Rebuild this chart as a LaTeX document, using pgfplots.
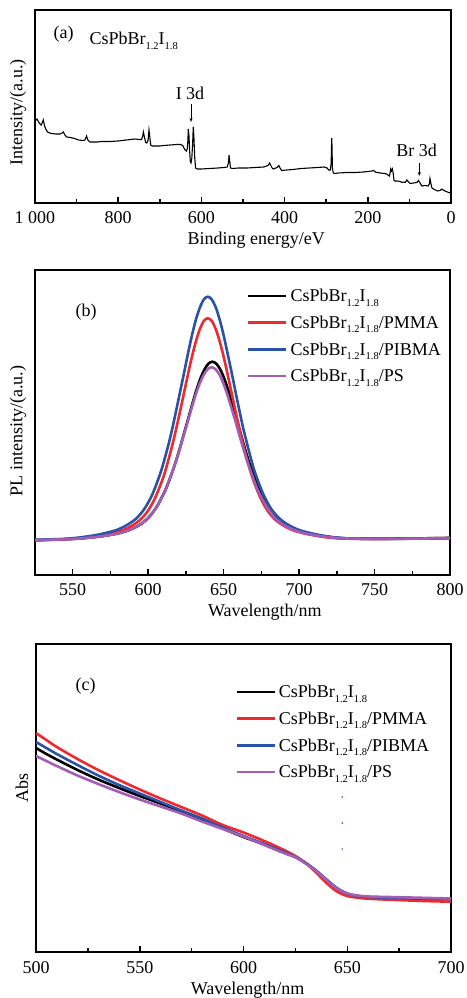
\documentclass[border=0pt]{standalone}
\usepackage{fontspec}
\setmainfont{Liberation Serif}
\usepackage{pgfplots}
\pgfplotsset{compat=1.18}
\usetikzlibrary{arrows.meta}

\definecolor{cred}{HTML}{EE2A2E}
\definecolor{cblue}{HTML}{2A52A8}
\definecolor{cpurple}{HTML}{A35DB5}

\newcommand{\ff}{\fontsize{18bp}{20bp}\selectfont}
\newcommand{\sub}[1]{\raisebox{-4.5bp}{\fontsize{10.5bp}{10.5bp}\selectfont #1}}
\newcommand{\cmp}{CsPbBr\sub{1.2}I\sub{1.8}}

\pgfplotsset{
  panel/.style={
    scale only axis, anchor=south west,
    ytick=\empty, xtick pos=bottom, tick align=inside,
    minor x tick num=1,
    major tick length=6bp, minor tick length=4bp,
    tick style={line width=1.5bp, black},
    axis line style={line width=2bp},
    /pgf/number format/assume math mode=true,
    tick label style={font=\ff},
    xticklabel style={anchor=base, yshift=-21bp},
    label style={font=\ff},
    xlabel style={anchor=base, yshift=-42bp},
    ylabel style={anchor=center},
  },
  leg/.style={
    legend style={draw=none, fill=none, inner sep=0pt, outer sep=0pt,
      anchor=north west, row sep=9.2bp, column sep=3bp, font=\ff,
      nodes={inner sep=0pt, text height=12.5bp, text depth=5bp}},
    legend cell align=left,
    legend image code/.code={\draw[##1, line width=2.6bp] (0bp,2bp) -- (38bp,2bp);},
  },
}

\begin{document}
\begin{tikzpicture}
\path[use as bounding box] (0,0) rectangle (467bp,998bp);

% (a) XPS survey
\begin{axis}[panel,
  at={(35bp,795bp)}, width=416bp, height=193bp,
  xmin=0, xmax=1000, x dir=reverse, ymin=0, ymax=193,
  xtick={0,200,400,600,800,1000},
  xticklabels={0,200,400,600,800,1~000},
  xlabel={Binding energy/eV},
  xlabel style={at={(axis description cs:0.532,0)}},
  ylabel={Intensity/(a.u.)},
  ylabel style={at={(axis description cs:0,0.469)}, yshift=17bp},
]
\addplot[black, line width=1.1bp] coordinates {
(1000,82) (995,84) (990,80) (985,78) (980,83) (977,77) (974,74) (970,71)
(965,70) (960,69.5) (950,69) (940,69) (935,70) (932,71) (928,68) (924,66)
(915,65.5) (905,64.5) (895,63) (885,62.5) (880,63) (876,67) (873,63) (868,61)
(860,61) (850,61) (840,61.5) (820,61.5) (800,62) (780,63) (760,64) (750,63.5)
(744,63.5) (741,67) (739.5,71) (737,66) (734,60.5) (731,60) (728,63) (726,73)
(724,66) (722,58) (718,57) (710,57) (700,57) (690,57.5) (675,58) (660,58.5)
(650,58.5) (645,57.5) (642,55) (639,53) (636,52) (634,54) (632.5,62) (631.5,74)
(630,68) (628,50) (626.5,41) (625,40) (623,45) (621,60) (619.5,76) (618,66)
(616,45) (614,35) (610,34) (600,34) (580,34.5) (560,35) (545,35.5) (538,36)
(535,40) (533.5,48) (532,42) (530,35) (525,34.5) (510,35) (490,35) (470,35.5)
(450,36) (443,37) (440,37.5) (436,40) (433,37.5) (430,35) (427,34) (418,35.5)
(414,37.5) (411,35) (407,32.5) (395,33) (380,33.5) (360,34.5) (340,35) (320,35.5)
(305,36) (298,35) (294,33) (290,33) (288,40) (287,60) (286.5,65) (286,55)
(285,35) (283,30) (280,29.5) (270,30) (250,30.5) (230,30.5) (210,31) (190,32)
(186,32.5) (182,31) (178,30.5) (170,30) (160,29.5) (155,29) (150,27.5) (148,27)
(146,31) (145,34) (143,32) (141,34) (139,30) (137,22.5) (135,22) (130,22)
(122,21.5) (118,20.5) (115,21) (110,20.5) (106,23) (102,21) (98,19.5) (90,20)
(82,20.5) (78,22.5) (76,21) (73,19) (70,17) (62,17.5) (55,17) (52,19)
(50.5,24.5) (48.5,20) (46,15) (40,13.5) (32,12) (26,12.5) (22,14) (19,13)
(12,11.5) (5,10.5) (0,10)
};
\end{axis}
\node[font=\ff, anchor=base west] at (50bp,959bp) {(a)};
\node[font=\ff, anchor=base west] at (86bp,953bp) {\cmp};
\node[font=\ff, anchor=base] at (190bp,898bp) {I 3d};
\draw[line width=0.6bp, -{Stealth[length=4bp,width=3bp]}] (191bp,894bp) -- (191bp,876bp);
\node[font=\ff, anchor=base] at (416.5bp,841bp) {Br 3d};
\draw[line width=0.6bp, -{Stealth[length=4bp,width=3bp]}] (419.3bp,835bp) -- (419.3bp,822bp);

% (b) PL
\begin{axis}[panel, leg,
  at={(35bp,423bp)}, width=415bp, height=305bp,
  xmin=525, xmax=800, ymin=0, ymax=305,
  xtick={550,600,...,800},
  xlabel={Wavelength/nm},
  xlabel style={at={(axis description cs:0.554,0)}},
  ylabel={PL intensity/(a.u.)},
  ylabel style={at={(axis description cs:0,0.472)}, yshift=17bp},
  legend style={at={(axis description cs:0.5108,0.937)}},
]
\addplot[black, line width=2.6bp, smooth] coordinates {
(525,34.8)(537.5,35.4)(548,35.9)(558.5,37)(569,38.7)(579.5,41.4)(584.8,43.6)
(590,46.6)(595.3,51)(600.5,57.8)(605.8,68.5)(611,83.7)(613.6,93.3)(616.3,104.4)
(618.9,116.3)(621.5,129.5)(624.1,143.4)(626.8,157.7)(629.4,171.8)(632,185)
(634.6,196.4)(637.3,205.5)(639.9,211.3)(642.5,213.3)(645.1,211.3)(647.8,205.5)
(650.4,196.4)(653,185)(655.6,171.8)(658.3,157.7)(660.9,143.4)(663.5,129.5)
(666.1,116.3)(668.8,104.4)(671.4,93.3)(674,83.7)(679.3,68.5)(684.5,57.8)
(689.8,51)(695,46.6)(700.3,43.6)(705.5,41.4)(716,38.7)(726.5,37)(737,36.4)
(750,36.1)(765,36.2)(780,36.5)(800,36.9)
};
\addlegendentry{\cmp}
\addplot[cred, line width=2.6bp, smooth] coordinates {
(525,34.6)(539.5,35.4)(549.5,36.1)(559.5,37.4)(569.5,39.7)(579.5,43)(584.5,45.6)
(589.5,49.5)(594.5,54.9)(599.5,63.4)(604.5,76.7)(609.5,95.5)(612,107.5)
(614.5,121.2)(617,136.1)(619.5,152.5)(622,169.8)(624.5,187.5)(627,205)
(629.5,221.4)(632,235.6)(634.5,246.9)(637,254.3)(639.5,256.7)(642,254.3)
(644.5,246.9)(647,235.6)(649.5,221.4)(652,205)(654.5,187.5)(657,169.8)
(659.5,152.5)(662,136.1)(664.5,121.2)(667,107.5)(669.5,95.5)(674.5,76.7)
(679.5,63.4)(684.5,54.9)(689.5,49.5)(694.5,45.6)(699.5,43)(709.5,39.7)
(719.5,37.4)(729.5,36.4)(745,36.2)(760,36.3)(780,36.6)(800,37)
};
\addlegendentry{\cmp/PMMA}
\addplot[cblue, line width=2.6bp, smooth] coordinates {
(525,35.2)(545,36.2)(555.5,37.7)(566,40.1)(576.5,43.8)(581.8,46.7)(587,50.9)
(592.3,56.8)(597.5,66.1)(602.8,80.7)(608,101.4)(610.6,114.6)(613.3,129.6)
(615.9,145.9)(618.5,164)(621.1,182.9)(623.8,202.4)(626.4,221.6)(629,239.6)
(631.6,255.2)(634.3,267.6)(636.9,275.6)(639.5,278.3)(642.1,275.6)(644.8,267.6)
(647.4,255.2)(650,239.6)(652.6,221.6)(655.3,202.4)(657.9,182.9)(660.5,164)
(663.1,145.9)(665.8,129.6)(668.4,114.6)(671,101.4)(676.3,80.7)(681.5,66.1)
(686.8,56.8)(692,50.9)(697.3,46.7)(702.5,43.8)(713,40.1)(723.5,37.7)(734,36.5)
(748,36.2)(765,36.3)(780,36.6)(800,37)
};
\addlegendentry{\cmp/PIBMA}
\addplot[cpurple, line width=2.6bp, smooth] coordinates {
(525,34.8)(537,35.3)(547.5,35.9)(558,36.9)(568.5,38.6)(579,41.2)(584.3,43.3)
(589.5,46.3)(594.8,50.5)(600,57.1)(605.3,67.5)(610.5,82.1)(613.1,91.5)
(615.8,102.2)(618.4,113.8)(621,126.5)(623.6,140)(626.3,153.8)(628.9,167.5)
(631.5,180.2)(634.1,191.3)(636.8,200.1)(639.4,205.8)(642,207.7)(644.6,205.8)
(647.3,200.1)(649.9,191.3)(652.5,180.2)(655.1,167.5)(657.8,153.8)(660.4,140)
(663,126.5)(665.6,113.8)(668.3,102.2)(670.9,91.5)(673.5,82.1)(678.8,67.5)
(684,57.1)(689.3,50.5)(694.5,46.3)(699.8,43.3)(705,41.2)(715.5,38.6)(726,36.9)
(736.5,36.3)(750,36)(765,36.1)(780,36.4)(800,36.8)
};
\addlegendentry{\cmp/PS}
\end{axis}
\node[font=\ff, anchor=base west] at (72bp,681bp) {(b)};

% (c) absorption
\begin{axis}[panel, leg,
  at={(36bp,46bp)}, width=415bp, height=308bp,
  xmin=500, xmax=700, ymin=0, ymax=308,
  xtick={500,550,...,700},
  xlabel={Wavelength/nm},
  xlabel style={at={(axis description cs:0.51,0)}},
  ylabel={Abs},
  ylabel style={at={(axis description cs:0,0.534)}, yshift=14bp},
  legend style={at={(axis description cs:0.480,0.866)}},
]
\addplot[black, line width=2.6bp, smooth] coordinates {
(500,204)(505,198)(510,192.5)(520,182)(530,172.5)(540,164)(550,156)(560,148.5)
(570,140.5)(580,132.5)(590,123.5)(600,115)(610,107.5)(620,99)(625,95)(630,88.7)
(635,81)(640,72)(645,63.5)(650,58)(655,55.8)(660,54.8)(670,54)(680,53.5)
(690,53.2)(700,53)
};
\addlegendentry{\cmp}
\addplot[cred, line width=2.6bp, smooth] coordinates {
(500,219)(505,212)(510,205)(520,193)(530,182)(540,172)(550,162.5)(560,153.5)
(570,145)(580,136.5)(590,127)(600,119.5)(610,111)(620,101.5)(625,96)(630,89)
(635,79.5)(640,69)(645,60.5)(650,56)(655,54.3)(660,53.3)(670,52.3)(680,51.5)
(690,50.8)(700,50.3)
};
\addlegendentry{\cmp/PMMA}
\addplot[cblue, line width=2.6bp, smooth] coordinates {
(500,210)(505,204)(510,198)(520,187)(530,176.5)(540,167)(550,158.5)(560,150)
(570,141.5)(580,133.5)(590,124.5)(600,116)(610,108)(620,99.5)(625,95)(630,89)
(635,81.5)(640,72.5)(645,64)(650,58.5)(655,56)(660,55)(670,54.3)(680,53.8)
(690,53.3)(700,53)
};
\addlegendentry{\cmp/PIBMA}
\addplot[cpurple, line width=2.6bp, smooth] coordinates {
(500,196)(505,191)(510,186)(520,176.5)(530,168)(540,160)(550,152.5)(560,145.5)
(570,138.5)(580,130.5)(590,123)(600,115.5)(610,107)(620,98.5)(625,94.8)(630,88.5)
(635,81)(640,72)(645,63.5)(650,58.5)(655,56.5)(660,55.5)(670,55)(680,54.5)
(690,54)(700,53.5)
};
\addlegendentry{\cmp/PS}
\addplot[cred, only marks, mark=*, mark size=0.5bp, forget plot] coordinates {(647.6,155)};
\addplot[cblue, only marks, mark=*, mark size=0.5bp, forget plot] coordinates {(647.6,129)};
\addplot[cpurple, only marks, mark=*, mark size=0.5bp, forget plot] coordinates {(647.6,103)};
\end{axis}
\node[font=\ff, anchor=base west] at (72bp,307bp) {(c)};
\end{tikzpicture}
\end{document}
